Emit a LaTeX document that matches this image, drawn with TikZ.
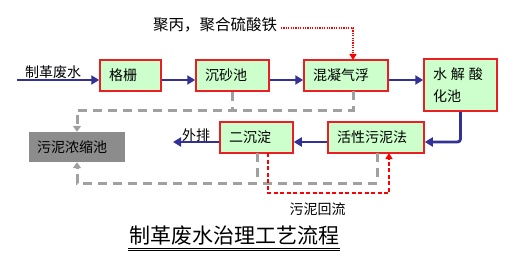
\documentclass[tikz,border=0pt]{standalone}
\usepackage{fontspec}
\newfontfamily\cjk{Noto Sans CJK SC}
\usetikzlibrary{arrows.meta}
\definecolor{boxgreen}{RGB}{204,255,204}
\definecolor{boxred}{RGB}{235,30,35}
\definecolor{flowblue}{RGB}{50,50,150}
\definecolor{sludgegray}{RGB}{160,160,160}
\definecolor{tankgray}{RGB}{140,140,140}
\tikzset{
  proc/.style={draw=boxred, fill=boxgreen, line width=1.5pt, inner xsep=9pt, inner ysep=0pt,
    align=left, font=\cjk\fontsize{14}{22}\selectfont, minimum height=31pt},
  lbl/.style={font=\cjk\fontsize{14}{17}\selectfont, inner sep=0pt},
  flow/.style={draw=flowblue, line width=2.8pt, -{Triangle[length=8pt,width=9pt]}},
  sludge/.style={draw=sludgegray, line width=3pt, dash pattern=on 9pt off 6pt},
  sludgearrow/.style={sludge, -{Triangle[length=6pt,width=8pt]}},
  ret/.style={draw=red, line width=1.3pt, dash pattern=on 4pt off 2.5pt, -{Triangle[length=6pt,width=7pt]}},
  dose/.style={draw=red, line width=1.3pt, dash pattern=on 1.2pt off 1.2pt, -{Triangle[length=6pt,width=7pt]}}
}
\begin{document}
\begin{tikzpicture}[x=1pt,y=-1pt]
\useasboundingbox (0,0) rectangle (506,262);
% boxes
\node[proc, text width=43pt] (g) at (130.5,75.5) {格栅};
\node[proc, text width=55pt] (s) at (232.5,75.5) {沉砂池};
\node[proc, text width=66pt] (h) at (346,75.5) {混凝气浮};
\node[proc, text width=55pt, minimum height=52pt] (sj) at (460.5,85) {水\hspace{4pt}解\hspace{4pt}酸\\化池};
\node[proc, text width=78pt] (hx) at (376,137.5) {活性污泥法};
\node[proc, text width=55pt] (ec) at (256.5,137.5) {二沉淀};
\node[fill=tankgray, minimum width=96pt, minimum height=30pt, inner xsep=8pt, text width=80pt,
  align=left, font=\cjk\fontsize{14}{17}\selectfont] (c) at (77,147) {污泥浓缩池};
% labels
\node[lbl] (inl) at (53,72) {制革废水};
\node[lbl] (outl) at (196,135) {外排};
\node[lbl] (retl) at (317.5,209) {污泥回流};
\node[font=\cjk\fontsize{15.5}{18}\selectfont, inner sep=0pt] (chem) at (215,25) {聚丙，聚合硫酸铁};
\node[font=\cjk\fontsize{21}{24}\selectfont, inner sep=0pt] (title) at (234,236) {制革废水治理工艺流程};
\draw[line width=0.9pt] (128,248) -- (340,248);
\draw[line width=0.9pt] (128,250.6) -- (340,250.6);
% coordinates
\coordinate (r1) at (0,80);
\coordinate (r2) at (0,142);
\coordinate (in) at (17,80);
\coordinate (out) at (173,142);
\coordinate (hb) at (353,91);
\coordinate (tl) at (77,110);
\coordinate (hxb) at (377,153);
\coordinate (ecb) at (257,153);
\coordinate (bl) at (77,183);
\coordinate (ecr) at (268,153);
\coordinate (rr) at (389,193);
\coordinate (hxr) at (389,153);
\coordinate (cd) at (281,28);
\coordinate (hd) at (353,60);
% gray sludge lines
\draw[sludge] (s.south) -- (s.south |- tl);
\draw[sludgearrow] (hb) |- (tl) -- (c.north);
\draw[sludge] (ecb) -- (ecb |- bl);
\draw[sludgearrow] (hxb) |- (bl) -- (c.south);
% red return
\draw[ret] (ecr) -- (ecr |- rr) -- (rr) -- (hxr);
% dosing
\draw[dose] (cd) -| (hd);
% main flow
\draw[flow] (in) -- (g.west |- r1);
\draw[flow] (g.east |- r1) -- (s.west |- r1);
\draw[flow] (s.east |- r1) -- (h.west |- r1);
\draw[flow] (h.east |- r1) -- (sj.west |- r1);
\draw[flow, rounded corners=3pt] (sj.south) |- (hx.east |- r2);
\draw[flow] (hx.west |- r2) -- (ec.east |- r2);
\draw[flow] (ec.west |- r2) -- (out);
\end{tikzpicture}
\end{document}
